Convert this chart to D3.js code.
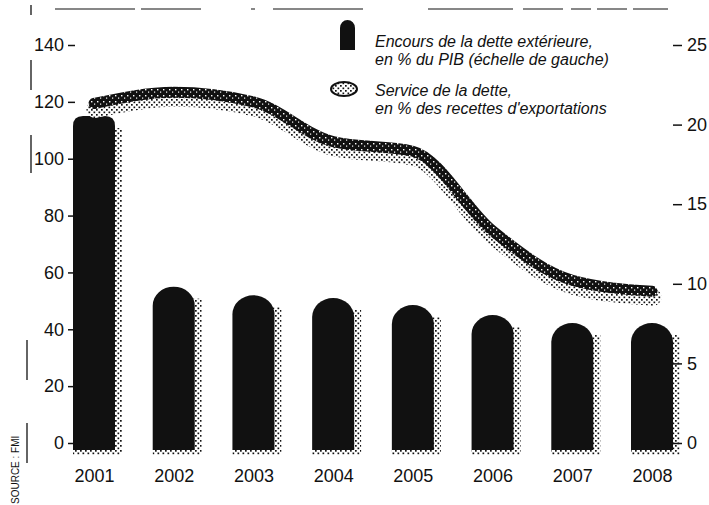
<!DOCTYPE html>
<html>
<head>
<meta charset="utf-8">
<script src="https://cdn.jsdelivr.net/npm/d3@7"></script>
<style>
  body { margin: 0; background: #fff; }
  svg { display: block; }
</style>
</head>
<body>
<svg id="chart" width="709" height="505"></svg>
<script>
const years = ['2001', '2002', '2003', '2004', '2005', '2006', '2007', '2008']
// encours de la dette extérieure, % du PIB (échelle de gauche)
const encours = [115, 55, 52, 51, 48.5, 45, 42.2, 42.2]
// service de la dette, % des recettes d'exportations (échelle de droite)
const service = [21.2, 21.9, 21.3, 18.8, 18.2, 13.2, 10.1, 9.4]
const leftTicks = [0, 20, 40, 60, 80, 100, 120, 140]
const rightTicks = [0, 5, 10, 15, 20, 25]

const font = '"Liberation Sans Narrow", "Liberation Sans", Arial, sans-serif'
const legendFont = '"Liberation Sans", Arial, sans-serif'
const ink = '#111'
const barW = 42

const svg = d3.select('#chart')

// stipple textures for the scanned look
const defs = svg.append('defs')
const stip = defs.append('pattern').attr('id', 'stip')
  .attr('width', 5).attr('height', 5).attr('patternUnits', 'userSpaceOnUse')
stip.append('rect').attr('width', 5).attr('height', 5).attr('fill', '#fff')
stip.append('rect').attr('x', 0).attr('y', 0).attr('width', 1.7).attr('height', 1.7).attr('fill', ink)
stip.append('rect').attr('x', 2.5).attr('y', 2.5).attr('width', 1.7).attr('height', 1.7).attr('fill', ink)

const dark = defs.append('pattern').attr('id', 'dark')
  .attr('width', 6).attr('height', 6).attr('patternUnits', 'userSpaceOnUse')
dark.append('rect').attr('width', 6).attr('height', 6).attr('fill', ink)
dark.append('rect').attr('x', 1).attr('y', 1).attr('width', 1.4).attr('height', 1.4).attr('fill', '#fff')
dark.append('rect').attr('x', 4).attr('y', 3.5).attr('width', 1.2).attr('height', 1.2).attr('fill', '#fff')

const xScale = d3.scalePoint().domain(years).range([94, 652])
const yLeft = d3.scaleLinear().domain([0, 140]).range([443, 45])
const yRight = d3.scaleLinear().domain([0, 25]).range([443, 45])
const base = yLeft(0) + 7

// scan leftovers: top rule, left edge marks
svg.append('line')
  .attr('x1', 55).attr('x2', 668).attr('y1', 9).attr('y2', 9)
  .attr('stroke', ink).attr('stroke-width', 1.2)
  .attr('stroke-dasharray', '80 6 60 50 4 18 90 65 85 10 40 8 20 6 30 6')
svg.append('g').selectAll('line')
  .data([[5, 15], [60, 90], [135, 173], [340, 380], [423, 463]])
  .enter().append('line')
  .attr('x1', (d, i) => i < 3 ? 31 : 27).attr('x2', (d, i) => i < 3 ? 31 : 27)
  .attr('y1', d => d[0]).attr('y2', d => d[1])
  .attr('stroke', ink).attr('stroke-width', 1.3)

svg.append('text')
  .attr('transform', 'translate(19,504) rotate(-90)')
  .attr('font-family', font).attr('font-size', 10).attr('fill', ink)
  .text('SOURCE : FMI')

// bars with rounded tops (the first one only has rounded corners)
function barPath(d, i) {
  const cx = xScale(years[i])
  const x0 = cx - barW / 2
  const x1 = cx + barW / 2
  const top = yLeft(d)
  if (i === 0) {
    const r = 10
    return `M${x0},${base} L${x0},${top + r} Q${x0},${top} ${x0 + r},${top} L${x1 - r},${top}` +
      ` Q${x1},${top} ${x1},${top + r} L${x1},${base} Z`
  }
  const r = 19
  return `M${x0},${base} L${x0},${top + r} A${barW / 2},${r} 0 0 1 ${x1},${top + r} L${x1},${base} Z`
}

const bars = svg.append('g')
bars.selectAll('.shadow')
  .data(encours)
  .enter().append('rect')
  .attr('class', 'shadow')
  .attr('x', (d, i) => xScale(years[i]) + barW / 2 - 2)
  .attr('y', d => yLeft(d) + 12)
  .attr('width', 9)
  .attr('height', d => base + 5 - yLeft(d) - 12)
  .attr('fill', 'url(#stip)')
bars.selectAll('.foot')
  .data(encours)
  .enter().append('rect')
  .attr('class', 'foot')
  .attr('x', (d, i) => xScale(years[i]) - barW / 2)
  .attr('y', base)
  .attr('width', barW + 6)
  .attr('height', 5)
  .attr('fill', 'url(#stip)')
bars.selectAll('.bar')
  .data(encours)
  .enter().append('path')
  .attr('class', 'bar')
  .attr('d', barPath)
  .attr('fill', ink)

// debt service line as a thick stippled band
const line = d3.line()
  .x((d, i) => xScale(years[i]))
  .y(d => yRight(d))
  .curve(d3.curveMonotoneX)

svg.append('path')
  .datum(service)
  .attr('d', line)
  .attr('transform', 'translate(1,4)')
  .attr('fill', 'none')
  .attr('stroke', 'url(#stip)')
  .attr('stroke-width', 17)
  .attr('stroke-linecap', 'round')
svg.append('path')
  .datum(service)
  .attr('d', line)
  .attr('transform', 'translate(0,-2)')
  .attr('fill', 'none')
  .attr('stroke', 'url(#dark)')
  .attr('stroke-width', 11)
  .attr('stroke-linecap', 'round')

// axes
const leftAxis = svg.append('g')
  .attr('transform', 'translate(78,0)')
  .call(d3.axisLeft(yLeft).tickValues(leftTicks).tickSize(10).tickPadding(4))
const rightAxis = svg.append('g')
  .attr('transform', 'translate(673,0)')
  .call(d3.axisRight(yRight).tickValues(rightTicks).tickSize(10).tickPadding(4))
const bottomAxis = svg.append('g')
  .attr('transform', 'translate(0,466)')
  .call(d3.axisBottom(xScale).tickSize(0).tickPadding(3))

;[leftAxis, rightAxis, bottomAxis].forEach(function(g) {
  g.select('.domain').remove()
  g.selectAll('text')
    .attr('font-family', font)
    .attr('font-size', 18)
    .attr('fill', ink)
  g.selectAll('.tick line').attr('stroke', ink).attr('stroke-width', 1.5)
})
// the tick marks are only short dashes beside the numbers
leftAxis.selectAll('.tick line').attr('x1', -3).attr('x2', -10)
rightAxis.selectAll('.tick line').attr('x1', 0).attr('x2', 9)

// legend
const legend = svg.append('g')
legend.append('path')
  .attr('d', 'M340,50 L340,28 A7.5,8 0 0 1 355,28 L355,50 Z')
  .attr('fill', ink)
legend.append('ellipse')
  .attr('cx', 344).attr('cy', 89).attr('rx', 13).attr('ry', 7)
  .attr('fill', 'url(#stip)').attr('stroke', ink).attr('stroke-width', 2)

const legendLines = [
  ['Encours de la dette extérieure,', 47],
  ['en % du PIB (échelle de gauche)', 65],
  ['Service de la dette,', 96],
  ['en % des recettes d\'exportations', 114]
]
legend.selectAll('text')
  .data(legendLines)
  .enter().append('text')
  .attr('x', 375)
  .attr('y', d => d[1])
  .attr('font-family', legendFont)
  .attr('font-style', 'italic')
  .attr('font-size', 16)
  .attr('fill', ink)
  .text(d => d[0])
</script>
</body>
</html>
